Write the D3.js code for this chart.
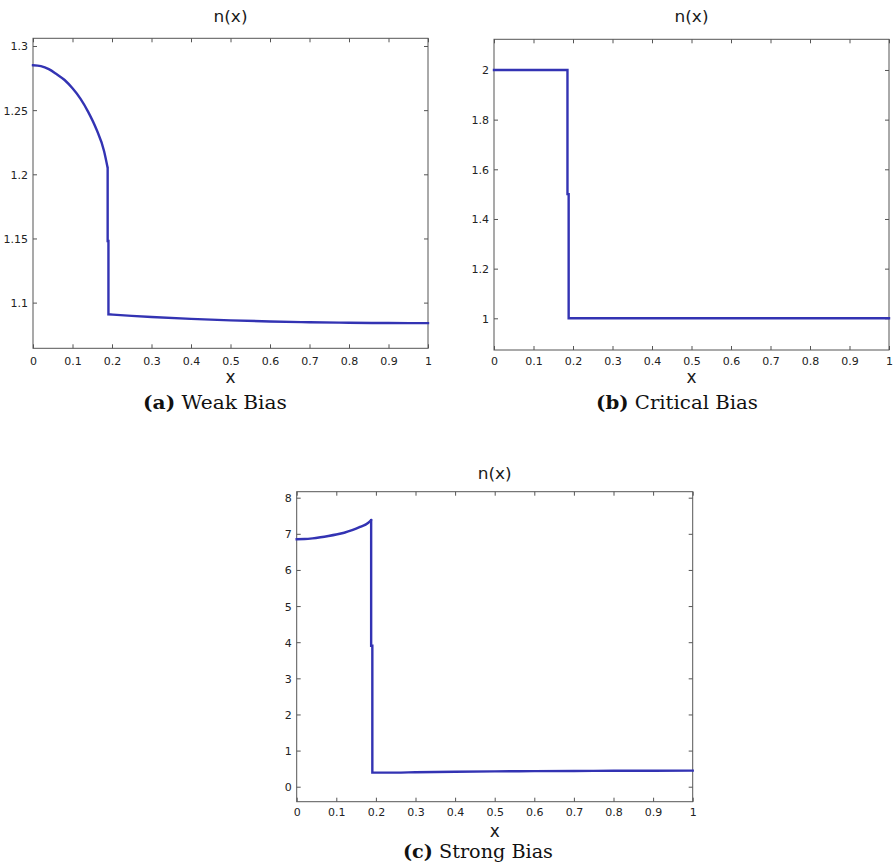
<!DOCTYPE html>
<html>
<head>
<meta charset="utf-8">
<script src="https://cdn.jsdelivr.net/npm/d3@7"></script>
<style>
  html, body { margin: 0; padding: 0; background: #fff; }
  svg { display: block; }
</style>
</head>
<body>
<svg id="chart" width="893" height="866"></svg>
<script>
// ---------- data ----------
const xTicks = [0, 0.1, 0.2, 0.3, 0.4, 0.5, 0.6, 0.7, 0.8, 0.9, 1];

const weakX = [0, 0.02, 0.04, 0.06, 0.08, 0.10, 0.12, 0.14, 0.16, 0.18, 0.189, 0.189, 0.191, 0.191, 0.25, 0.3, 0.4, 0.5, 0.6, 0.7, 0.8, 0.9, 1.0];
const weakY = [1.285, 1.2843, 1.282, 1.278, 1.2735, 1.267, 1.259, 1.2485, 1.2355, 1.218, 1.205, 1.148, 1.148, 1.0909, 1.0897, 1.0888, 1.0873, 1.0862, 1.0853, 1.0847, 1.0843, 1.0841, 1.084];
const weakYTicks = [1.1, 1.15, 1.2, 1.25, 1.3];

const critX = [0, 0.186, 0.186, 0.189, 0.189, 1];
const critY = [2, 2, 1.5, 1.5, 1, 1];
const critYTicks = [1, 1.2, 1.4, 1.6, 1.8, 2];

const strongX = [0, 0.02, 0.04, 0.06, 0.08, 0.10, 0.12, 0.14, 0.16, 0.18, 0.188, 0.188, 0.191, 0.191, 0.25, 0.3, 0.4, 0.5, 0.6, 0.7, 0.8, 0.9, 1];
const strongY = [6.85, 6.855, 6.875, 6.905, 6.94, 6.98, 7.03, 7.10, 7.19, 7.30, 7.38, 3.9, 3.9, 0.39, 0.39, 0.40, 0.415, 0.425, 0.43, 0.435, 0.44, 0.443, 0.445];
const strongYTicks = [0, 1, 2, 3, 4, 5, 6, 7, 8];

const titles = ["n(x)", "n(x)", "n(x)"];
const xLabels = ["x", "x", "x"];
const captionTags = ["(a)", "(b)", "(c)"];
const captionTexts = ["Weak Bias", "Critical Bias", "Strong Bias"];

// ---------- layout ----------
const svg = d3.select("#chart");
const lineColor = "#3333b3";
const frameColor = "#555";
const textColor = "#222";

const panels = [
  { xs: weakX, ys: weakY, yTicks: weakYTicks, yDomain: [1.0644, 1.306],
    box: { l: 33, r: 428, t: 38.3, b: 348.3 }, titleY: 22, tickY: 365, labelY: 383,
    capX: 215, capY: 409, capW: 144 },
  { xs: critX, ys: critY, yTicks: critYTicks, yDomain: [0.8724, 2.1235],
    box: { l: 494, r: 889, t: 39.3, b: 350 }, titleY: 22, tickY: 365, labelY: 383,
    capX: 677, capY: 409, capW: 162 },
  { xs: strongX, ys: strongY, yTicks: strongYTicks, yDomain: [-0.415, 8.166],
    box: { l: 296.7, r: 692.7, t: 491.7, b: 801.7 }, titleY: 479, tickY: 816.5, labelY: 836.5,
    capX: 478, capY: 858, capW: 150 }
];

function fmt(v) { return String(+v.toFixed(4)); }

function scaledText(g, x, y, width, build) {
  const t = g.append("text").attr("text-anchor", "middle").attr("x", 0).attr("y", 0);
  build(t);
  const w = t.node().getComputedTextLength();
  const s = width && w > 0 ? width / w : 1;
  t.attr("transform", `translate(${x},${y}) scale(${s},1)`);
  return t;
}

// split a series into runs separated by vertical jumps (repeated x)
function runs(pts) {
  const out = [[pts[0]]];
  for (let k = 1; k < pts.length; k++) {
    const prev = pts[k - 1], cur = pts[k];
    if (cur[0] === prev[0]) {
      out.push([prev, cur]);     // vertical piece
      out.push([cur]);
    } else {
      out[out.length - 1].push(cur);
    }
  }
  return out.filter(r => r.length > 1);
}

panels.forEach((p, i) => {
  const { l, r, t, b } = p.box;
  const x = d3.scaleLinear().domain([0, 1]).range([l, r]);
  const y = d3.scaleLinear().domain(p.yDomain).range([b, t]);
  const g = svg.append("g");

  const axB = g.append("g").attr("transform", `translate(0,${b})`)
    .call(d3.axisBottom(x).tickValues(xTicks).tickSizeInner(-4).tickSizeOuter(0).tickFormat(fmt));
  const axT = g.append("g").attr("transform", `translate(0,${t})`)
    .call(d3.axisTop(x).tickValues(xTicks).tickSizeInner(-4).tickSizeOuter(0).tickFormat(""));
  const axL = g.append("g").attr("transform", `translate(${l},0)`)
    .call(d3.axisLeft(y).tickValues(p.yTicks).tickSizeInner(-4).tickSizeOuter(0).tickFormat(fmt));
  const axR = g.append("g").attr("transform", `translate(${r},0)`)
    .call(d3.axisRight(y).tickValues(p.yTicks).tickSizeInner(-4).tickSizeOuter(0).tickFormat(""));

  [axB, axT, axL, axR].forEach(ax => {
    ax.select(".domain").remove();
    ax.selectAll(".tick line").attr("stroke", frameColor).attr("stroke-width", 1);
  });
  axB.selectAll(".tick text")
    .attr("dy", null)
    .attr("y", p.tickY - b)
    .attr("font-family", "DejaVu Sans, sans-serif").attr("font-size", 11)
    .attr("fill", textColor);
  axL.selectAll(".tick text")
    .attr("x", -5)
    .attr("dy", "0.36em")
    .attr("font-family", "DejaVu Sans, sans-serif").attr("font-size", 11)
    .attr("fill", textColor);

  g.append("rect").attr("x", l).attr("y", t).attr("width", r - l).attr("height", b - t)
    .attr("fill", "none").attr("stroke", frameColor).attr("stroke-width", 1);

  // line: smooth runs joined by vertical jumps
  const pts = p.xs.map((v, k) => [v, p.ys[k]]);
  const smooth = d3.line().x(d => x(d[0])).y(d => y(d[1])).curve(d3.curveMonotoneX);
  const d = runs(pts).map(run => smooth(run)).join("");
  g.append("path")
    .attr("d", d)
    .attr("fill", "none").attr("stroke", lineColor).attr("stroke-width", 2.4)
    .attr("stroke-linejoin", "miter").attr("stroke-linecap", "square");

  scaledText(g, (l + r) / 2, p.titleY, 34, tx => {
    tx.attr("font-family", "DejaVu Sans, sans-serif").attr("font-size", 15)
      .attr("fill", "#1a1a1a").text(titles[i]);
  });
  g.append("text").attr("x", (l + r) / 2).attr("y", p.labelY)
    .attr("text-anchor", "middle")
    .attr("font-family", "DejaVu Sans, sans-serif").attr("font-size", 17)
    .attr("fill", "#1a1a1a").text(xLabels[i]);

  scaledText(g, p.capX, p.capY, p.capW, tx => {
    tx.attr("font-family", "DejaVu Serif, serif").attr("font-size", 18).attr("fill", "#111");
    tx.append("tspan").attr("font-weight", "bold").text(captionTags[i]);
    tx.append("tspan").text(" " + captionTexts[i]);
  });
});
</script>
</body>
</html>
